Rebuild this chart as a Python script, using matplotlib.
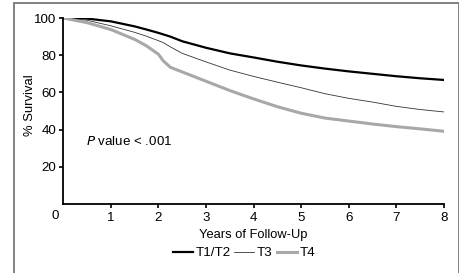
import matplotlib
matplotlib.use("Agg")
import matplotlib.pyplot as plt
from matplotlib.patches import Rectangle

plt.rcParams["font.family"] = ["Liberation Sans", "DejaVu Sans"]

# Survival curves
years = [0, 0.5, 1, 1.5, 1.75, 2, 2.1, 2.25, 2.5, 3, 3.5, 4, 4.5, 5, 5.5, 6, 6.5, 7, 7.5, 8]
t1_t2 = [100, 99.7, 98.2, 95.5, 93.8, 92, 91.2, 90, 87.5, 84, 81, 78.8, 76.5, 74.5, 72.8, 71.3, 70, 68.7, 67.6, 66.7]
t3 = [100, 98.8, 95.8, 92.3, 90.2, 87.8, 86.8, 84.5, 81, 76.4, 72, 68.6, 65.5, 62.5, 59.3, 56.8, 54.8, 52.5, 50.8, 49.5]
t4 = [100, 97.5, 93.8, 88.5, 85, 80.5, 77, 73.5, 71, 66, 61, 56.5, 52.3, 48.8, 46.2, 44.6, 43, 41.6, 40.4, 39.1]

x_ticks = [1, 2, 3, 4, 5, 6, 7, 8]
y_ticks = [20, 40, 60, 80, 100]

fig = plt.figure(figsize=(4.6, 2.73), dpi=100)
ax = fig.add_axes([0.1376, 0.2527, 0.8276, 0.6813])

ax.plot(years, t1_t2, color="black", lw=1.6, label="T1/T2")
ax.plot(years, t3, color="#333333", lw=0.6, label="T3")
ax.plot(years, t4, color="#a8a8a8", lw=2.2, label="T4")

ax.set_xlim(0, 8)
ax.set_ylim(0, 100)
ax.set_xticks(x_ticks)
ax.set_yticks(y_ticks)
for s in ["top", "right"]:
    ax.spines[s].set_visible(False)
for s in ["left", "bottom"]:
    ax.spines[s].set_linewidth(1.3)
ax.tick_params(direction="out", length=3, width=1.2, labelsize=9.6, pad=2)
ax.tick_params(axis="x", pad=3)

ax.text(-0.022, -0.065, "0", transform=ax.transAxes, ha="center", va="center", fontsize=9.6)
ax.set_ylabel("% Survival", fontsize=9.4)
ax.yaxis.set_label_coords(-0.072, 0.53)
ax.set_xlabel("Years of Follow-Up", fontsize=9.3, labelpad=3)

ax.text(0.06, 0.335, "$\\it{P}$ value < .001", transform=ax.transAxes,
        ha="left", va="center", fontsize=9.6)

fig.legend(loc="center", bbox_to_anchor=(0.53, 0.073), ncol=3, frameon=False,
           fontsize=9.6, handlelength=1.5, handletextpad=0.2, columnspacing=0.3)

# grey frame around the figure
fig.patches.append(Rectangle((0.030, -0.2), 0.968, 1.189, transform=fig.transFigure,
                             fill=False, edgecolor="#777777", lw=1.3))

fig.savefig("out.png", dpi=100)
